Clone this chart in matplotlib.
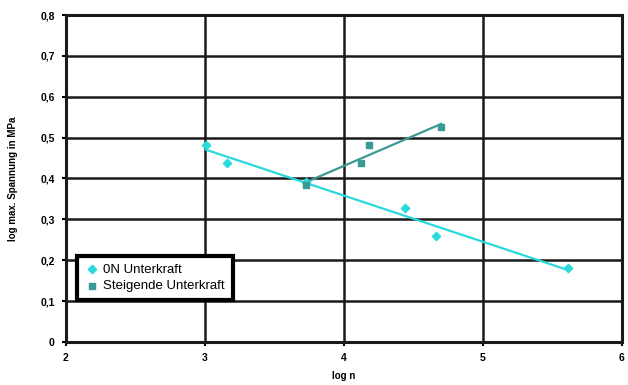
import matplotlib
matplotlib.use("Agg")
import matplotlib.pyplot as plt
import numpy as np
from matplotlib.ticker import FuncFormatter, MultipleLocator

plt.rcParams["font.family"] = ["Liberation Sans", "DejaVu Sans"]

# 0N Unterkraft
x_0n = [3.01, 3.16, 3.73, 4.44, 4.66, 5.61]
y_0n = [0.482, 0.438, 0.392, 0.328, 0.259, 0.181]

# Steigende Unterkraft
x_st = [3.73, 4.12, 4.18, 4.70]
y_st = [0.384, 0.438, 0.482, 0.526]

CYAN = "#2ad9dc"
TEAL = "#3a9a94"

fig = plt.figure(figsize=(6.28, 3.85), dpi=100)
ax = fig.add_axes([0.105, 0.112, 0.885, 0.849])

ax.set_xlim(2, 6)
ax.set_ylim(0, 0.8)
ax.xaxis.set_major_locator(MultipleLocator(1))
ax.yaxis.set_major_locator(MultipleLocator(0.1))
ax.yaxis.set_major_formatter(FuncFormatter(lambda v, p: "0" if abs(v) < 1e-9 else f"{v:.1f}".replace(".", ",")))
ax.grid(True, color="#1a1a1a", lw=1.8)
ax.set_axisbelow(True)
for s in ax.spines.values():
    s.set_linewidth(2.2)
    s.set_color("#1a1a1a")
ax.tick_params(direction="out", length=3, width=1.5, labelsize=7.5, pad=5)
for lab in ax.get_xticklabels() + ax.get_yticklabels():
    lab.set_fontweight("bold")

# linear trend lines over each series' range
for xs, ys, c in [(x_0n, y_0n, CYAN), (x_st, y_st, TEAL)]:
    k, d = np.polyfit(xs, ys, 1)
    xx = np.array([min(xs), max(xs)])
    ax.plot(xx, k * xx + d, color=c, lw=1.6, zorder=3)

ax.scatter(x_0n, y_0n, marker="D", s=18, color=CYAN, zorder=4, label="0N Unterkraft")
ax.scatter(x_st, y_st, marker="s", s=18, color=TEAL, zorder=4, label="Steigende Unterkraft")

leg = ax.legend(loc="lower left", bbox_to_anchor=(0.02, 0.128), borderaxespad=0,
                fancybox=False, framealpha=1, edgecolor="black", fontsize=9.5,
                handletextpad=0.4, handlelength=1.0, borderpad=0.6, labelspacing=0.3)
leg.get_frame().set_linewidth(3)

ax.set_xlabel("log n", fontsize=7, fontweight="bold", labelpad=6)
ax.set_ylabel("log max. Spannung in MPa", fontsize=7, fontweight="bold", labelpad=16)

fig.savefig("out.png", dpi=100)
